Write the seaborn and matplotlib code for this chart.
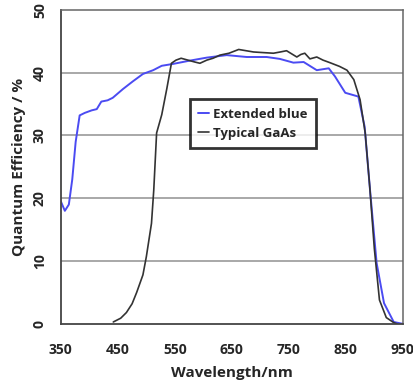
import numpy as np
import pandas as pd
import matplotlib
matplotlib.use('Agg')
import matplotlib.pyplot as plt
import seaborn as sns

# Values
blue_wl = [350, 357, 364, 370, 376, 383, 392, 404, 413, 421, 432, 441, 459, 476, 494,
           512, 527, 547, 575, 606, 641, 676, 711, 734, 758, 776, 799, 820, 831, 849,
           872, 883, 892, 904, 917, 934, 950]
blue_qe = [19.5, 18.0, 19.0, 23.0, 29.0, 33.2, 33.6, 34.0, 34.2, 35.4, 35.6, 36.0, 37.4, 38.6, 39.8,
           40.4, 41.1, 41.4, 41.9, 42.4, 42.8, 42.5, 42.5, 42.2, 41.6, 41.7, 40.4, 40.7, 39.4, 36.8,
           36.2, 31.4, 21.8, 9.7, 3.3, 0.3, 0.0]

gaas_wl = [442, 455, 465, 475, 483, 494, 500, 509, 513, 518, 527, 536, 544, 552, 561, 573,
           585, 594, 606, 617, 629, 645, 662, 675, 688, 705, 723, 735, 746, 755, 764,
           771, 778, 787, 799, 810, 822, 839, 852, 864, 875, 884, 892, 900, 909, 921, 934, 940]
gaas_qe = [0.3, 0.9, 1.8, 3.2, 5.0, 7.8, 10.7, 16.0, 21.3, 30.4, 33.3, 37.5, 41.5, 42.0, 42.3, 42.0,
           41.7, 41.5, 42.0, 42.3, 42.8, 43.1, 43.7, 43.5, 43.3, 43.2, 43.1, 43.3, 43.5, 43.0, 42.5,
           42.9, 43.1, 42.2, 42.5, 42.0, 41.6, 41.0, 40.4, 38.9, 35.7, 30.4, 21.8, 12.0, 3.8, 1.0, 0.2, 0.0]

x_ticks = [350, 450, 550, 650, 750, 850, 950]
y_ticks = [0, 10, 20, 30, 40, 50]

sns.set_style('white')
plt.rcParams['font.family'] = ['Open Sans', 'DejaVu Sans']

fig = plt.figure(figsize=(4.14, 3.81), dpi=100)
ax = fig.add_axes([0.147, 0.150, 0.826, 0.824])

blue_df = pd.DataFrame({'wl': blue_wl, 'qe': blue_qe})
gaas_df = pd.DataFrame({'wl': gaas_wl, 'qe': gaas_qe})

for y in [10, 20, 30, 40]:
    ax.axhline(y, color='#9a9a9a', lw=1.2, zorder=0)

sns.lineplot(data=blue_df, x='wl', y='qe', ax=ax, color='#4b4bf2', lw=1.4,
             label='Extended blue', sort=False)
sns.lineplot(data=gaas_df, x='wl', y='qe', ax=ax, color='#333333', lw=1.2,
             label='Typical GaAs', sort=False)

ax.set_xlim(350, 950)
ax.set_ylim(0, 50)
ax.set_xticks(x_ticks)
ax.set_yticks(y_ticks)
ax.set_xticklabels([str(t) for t in x_ticks], fontsize=10, fontweight='bold')
ax.set_yticklabels([str(t) for t in y_ticks], fontsize=10, fontweight='bold',
                   rotation=90, va='center')
ax.tick_params(axis='both', direction='out', length=4, width=1, color='#555555', pad=6)
ax.tick_params(axis='x', pad=10)

ax.set_xlabel('Wavelength/nm', fontsize=11, fontweight='bold', labelpad=6)
ax.set_ylabel('Quantum Efficiency / %', fontsize=11, fontweight='bold', labelpad=5)

for side in ['left', 'bottom']:
    ax.spines[side].set_color('#444444')
    ax.spines[side].set_linewidth(1.3)
for side in ['top', 'right']:
    ax.spines[side].set_color('#666666')
    ax.spines[side].set_linewidth(1.1)

leg = ax.legend(loc='upper left', bbox_to_anchor=(0.377, 0.715), fontsize=9.5,
                frameon=True, fancybox=False, handlelength=0.8, handletextpad=0.3,
                borderpad=0.65, labelspacing=0.45, borderaxespad=0)
leg.get_frame().set_edgecolor('black')
leg.get_frame().set_linewidth(2.0)
for t in leg.get_texts():
    t.set_fontweight('bold')

fig.savefig('out.png', dpi=100)
